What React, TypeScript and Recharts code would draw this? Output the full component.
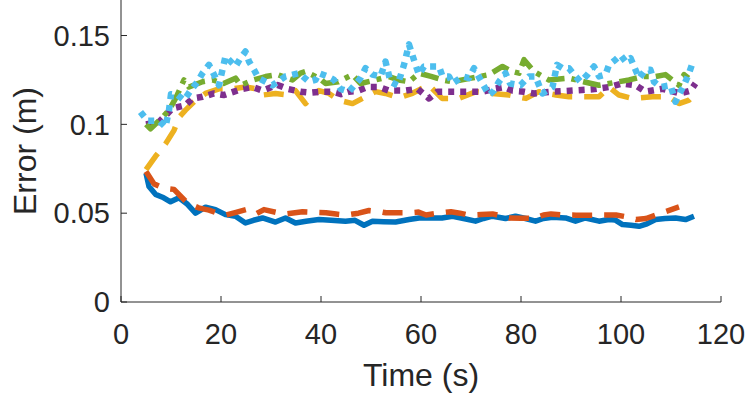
import React from 'react';
import { LineChart, Line, XAxis, YAxis, Label } from 'recharts';

// time stamps (s) and error (m) per run
const blueT = [5, 5.6, 6.9, 8.3, 9.9, 11.6, 13.3, 14.9, 16.9, 18.9, 20.9, 22.9, 24.9, 26.5, 28.3, 30.9, 32.9, 34.9, 37, 39.6, 42, 44.9, 46.8, 48.6, 50.3, 52.5, 54.9, 57.6, 59.6, 61.6, 64.2, 66.3, 68.5, 70.9, 72.5, 74.3, 76.9, 78.9, 80.9, 82.9, 84.5, 86.3, 88.9, 90.9, 92.9, 95.6, 97.6, 98.8, 100.3, 102, 103.6, 105.2, 106.9, 108.8, 110.9, 112.9, 114.6];
const blueV = [0.0725, 0.065, 0.0606, 0.059, 0.0564, 0.0587, 0.055, 0.05, 0.0534, 0.052, 0.0492, 0.0483, 0.0445, 0.046, 0.0473, 0.045, 0.0473, 0.0445, 0.0455, 0.0464, 0.046, 0.0455, 0.046, 0.0432, 0.0455, 0.0452, 0.045, 0.0464, 0.0473, 0.0473, 0.0473, 0.0483, 0.047, 0.0455, 0.047, 0.0483, 0.047, 0.0483, 0.047, 0.0455, 0.047, 0.0477, 0.0473, 0.0455, 0.0473, 0.0455, 0.0464, 0.0462, 0.0436, 0.0432, 0.0426, 0.044, 0.0464, 0.047, 0.0473, 0.0464, 0.0483];

const orangeT = [5, 6.6, 8.6, 10.6, 13.2, 15.5, 17.6, 19.3, 21, 23, 25, 27, 28.6, 31, 33, 36.3, 38.5, 41, 43, 45, 47.5, 49.6, 51.5, 53, 55.5, 57.6, 59.5, 61, 63.5, 66, 67.8, 69.6, 72, 74.3, 76, 77.6, 80, 82.6, 84.5, 86, 88.5, 91, 92.5, 94.3, 96.5, 99, 101, 103, 105, 107, 109, 111.6];
const orangeV = [0.0735, 0.0665, 0.064, 0.0634, 0.0559, 0.053, 0.0517, 0.05, 0.049, 0.0505, 0.052, 0.0496, 0.052, 0.0505, 0.0496, 0.0508, 0.0505, 0.0502, 0.0495, 0.0489, 0.05, 0.0515, 0.051, 0.0502, 0.0502, 0.0502, 0.0506, 0.049, 0.05, 0.0508, 0.05, 0.0489, 0.0492, 0.0496, 0.0485, 0.0473, 0.0472, 0.047, 0.049, 0.0496, 0.049, 0.0489, 0.0489, 0.0489, 0.049, 0.049, 0.048, 0.0464, 0.047, 0.049, 0.051, 0.0535];

const yellowT = [5, 6.9, 8.9, 10.6, 11.6, 12.9, 14.6, 16.9, 19.6, 22.3, 24.9, 27, 28.3, 30.9, 33.6, 34.9, 36.9, 39.6, 41.6, 43.6, 46.3, 48.9, 50.9, 52.9, 55.6, 58.3, 60, 61.6, 64.2, 67.6, 71, 74.3, 77.6, 81, 83.6, 87, 89.6, 93, 95.6, 97.6, 99.6, 102.3, 106.3, 109.6, 111.6, 113.6, 114.6];
const yellowV = [0.0745, 0.082, 0.089, 0.0966, 0.104, 0.108, 0.1127, 0.1174, 0.12, 0.12, 0.121, 0.12, 0.1165, 0.1174, 0.1165, 0.119, 0.1117, 0.119, 0.1174, 0.1136, 0.1117, 0.1155, 0.1184, 0.1174, 0.115, 0.1175, 0.12, 0.122, 0.1146, 0.1146, 0.1184, 0.1174, 0.1165, 0.1146, 0.1184, 0.1165, 0.1155, 0.1155, 0.1155, 0.121, 0.1165, 0.1146, 0.1155, 0.1155, 0.1117, 0.1136, 0.1165];

const purpleT = [5, 7.6, 10.3, 12.9, 14.3, 16.3, 18.6, 20.6, 22.6, 24.3, 26.3, 28.3, 31.3, 33.3, 35.9, 37.9, 40, 42.3, 44, 45.6, 47.5, 49.3, 51.6, 53.6, 56.9, 59.3, 61.6, 63.3, 66.9, 69.3, 72.3, 74.6, 76.6, 78.3, 80.6, 82.6, 86.3, 90.3, 94.3, 97.6, 100.3, 102.9, 104.9, 108.3, 111.9, 113.9, 114.9];
const purpleV = [0.1, 0.1013, 0.109, 0.1108, 0.1146, 0.1155, 0.1174, 0.1165, 0.1184, 0.12, 0.121, 0.119, 0.1222, 0.12, 0.1184, 0.1178, 0.1184, 0.1184, 0.117, 0.1184, 0.119, 0.121, 0.121, 0.119, 0.119, 0.12, 0.1146, 0.1184, 0.1184, 0.1184, 0.1184, 0.12, 0.121, 0.119, 0.1184, 0.1174, 0.1184, 0.119, 0.1197, 0.121, 0.123, 0.122, 0.1184, 0.12, 0.1174, 0.119, 0.123];

const greenT = [5, 5.9, 8.3, 9.6, 11, 12.6, 13.6, 16.3, 18.3, 20.5, 22.9, 23.9, 26.5, 28.9, 31.3, 34.3, 35.9, 36.9, 39.6, 40.9, 43.5, 46.3, 47.9, 50.9, 53.6, 55.5, 57.6, 59.6, 62, 64.3, 66.3, 70, 73.6, 76.3, 78, 79.6, 80.6, 82.5, 84.3, 85.6, 89.6, 92.5, 95.6, 97.6, 101.6, 104.5, 106.9, 108.9, 111.6, 112.6, 113.5];
const greenV = [0.1, 0.0975, 0.104, 0.108, 0.115, 0.125, 0.121, 0.124, 0.125, 0.123, 0.126, 0.122, 0.125, 0.1269, 0.128, 0.125, 0.1288, 0.1297, 0.126, 0.123, 0.124, 0.128, 0.123, 0.125, 0.1269, 0.125, 0.124, 0.1288, 0.127, 0.125, 0.124, 0.126, 0.128, 0.1326, 0.13, 0.1288, 0.1364, 0.13, 0.1269, 0.125, 0.126, 0.124, 0.122, 0.123, 0.125, 0.127, 0.1269, 0.128, 0.122, 0.128, 0.126];

const cyanT = [3.9, 5.3, 7.6, 8.9, 9.6, 10, 11.3, 12.6, 13.9, 15.3, 16.3, 17.6, 18.6, 19.6, 20.9, 22.9, 23.9, 24.9, 25.6, 26.6, 27.5, 30.3, 32.9, 35.6, 37.6, 38.9, 39.6, 41.3, 42.6, 43.9, 45.6, 47.9, 48.9, 50.3, 51.9, 52.9, 53.9, 55.3, 56.6, 57.6, 58.9, 59.6, 60.6, 63.6, 64.3, 65.6, 66.3, 68.3, 69.6, 70.6, 72.3, 73.6, 74.6, 75.6, 76.9, 77.8, 79.9, 81.6, 82.9, 83.6, 84.3, 86.3, 87.2, 88.3, 89.6, 90.6, 91.9, 93.3, 94.6, 95.6, 96.9, 97.6, 98.9, 99.9, 100.9, 101.9, 102.6, 103.6, 104.9, 105.9, 106.6, 107.9, 109.9, 110.9, 111.9, 112.6, 113.6, 114.3];
const cyanV = [0.107, 0.102, 0.102, 0.0985, 0.108, 0.117, 0.1165, 0.1136, 0.119, 0.124, 0.1288, 0.1335, 0.128, 0.122, 0.1383, 0.1326, 0.1373, 0.141, 0.1354, 0.1307, 0.126, 0.122, 0.127, 0.1288, 0.124, 0.125, 0.1288, 0.127, 0.125, 0.12, 0.1184, 0.126, 0.1316, 0.128, 0.127, 0.1354, 0.124, 0.122, 0.1335, 0.145, 0.1335, 0.128, 0.1326, 0.1326, 0.127, 0.127, 0.123, 0.127, 0.126, 0.1316, 0.123, 0.1165, 0.119, 0.124, 0.1288, 0.123, 0.122, 0.127, 0.127, 0.122, 0.1174, 0.121, 0.1335, 0.1316, 0.1316, 0.128, 0.124, 0.128, 0.1326, 0.127, 0.128, 0.1335, 0.1364, 0.139, 0.1354, 0.1373, 0.1326, 0.126, 0.1307, 0.1307, 0.124, 0.121, 0.122, 0.1127, 0.1184, 0.122, 0.1288, 0.1345];

const xTicks = [0, 20, 40, 60, 80, 100, 120];
const yTicks = [0, 0.05, 0.1, 0.15];

const rows = (t: number[], v: number[]) => t.map((x, i) => ({ t: x, v: v[i] }));

const INK = '#262626';
const FONT = '"Liberation Sans", Arial, sans-serif';

const series = [
  { name: 'blue', data: rows(blueT, blueV), color: '#0072BD', dash: undefined, width: 5.5 },
  { name: 'orange', data: rows(orangeT, orangeV), color: '#D95319', dash: '20 12', width: 5.5 },
  { name: 'yellow', data: rows(yellowT, yellowV), color: '#EDB120', dash: '20 12', width: 5.5 },
  { name: 'purple', data: rows(purpleT, purpleV), color: '#7E2F8E', dash: '6 6', width: 6.5 },
  { name: 'green', data: rows(greenT, greenV), color: '#77AC30', dash: '18 7 5 7', width: 5.5 },
  { name: 'cyan', data: rows(cyanT, cyanV), color: '#4DBEEE', dash: '6 6', width: 6.5 },
];

const tickStyle = { fill: INK, fontSize: 29, fontFamily: FONT };

const App: React.FC = () => {
  return (
    <div style={{ position: 'absolute', left: 0, top: 0, background: '#fff' }}>
      <LineChart width={747} height={399} margin={{ top: 0, right: 26, left: 0, bottom: 0 }}>
        <XAxis
          type="number"
          dataKey="t"
          domain={[0, 120]}
          ticks={xTicks}
          allowDataOverflow
          height={97}
          stroke={INK}
          tickSize={-6}
          tickMargin={27}
          tick={tickStyle}
        >
          <Label
            content={() => (
              <text x={421} y={386} textAnchor="middle" fill={INK} fontSize={32} fontFamily={FONT}>
                Time (s)
              </text>
            )}
          />
        </XAxis>
        <YAxis
          type="number"
          domain={[0, 0.17]}
          ticks={yTicks}
          allowDataOverflow
          width={121}
          stroke={INK}
          tickSize={-6}
          tickMargin={17}
          tick={tickStyle}
        >
          <Label
            content={() => (
              <text
                x={36}
                y={151}
                transform="rotate(-90 36 151)"
                textAnchor="middle"
                fill={INK}
                fontSize={32}
                fontFamily={FONT}
              >
                Error (m)
              </text>
            )}
          />
        </YAxis>
        {series.map((s) => (
          <Line
            key={s.name}
            data={s.data}
            dataKey="v"
            type="linear"
            stroke={s.color}
            strokeWidth={s.width}
            strokeDasharray={s.dash}
            strokeLinejoin="round"
            dot={false}
            activeDot={false}
            isAnimationActive={false}
          />
        ))}
      </LineChart>
    </div>
  );
};

export default App;
